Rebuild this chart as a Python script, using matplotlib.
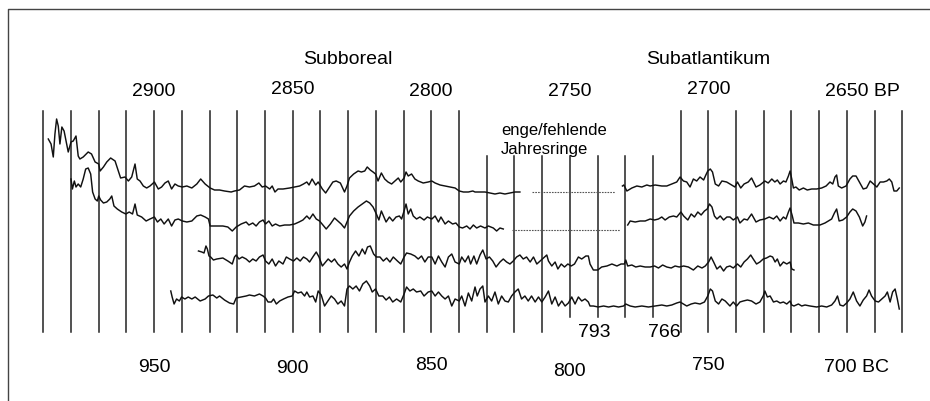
import matplotlib.pyplot as plt

# ---------------- data ----------------
# grid years (BC), one line every 10 years
grid_years = list(range(990, 679, -10))
bc_labels = [950, 900, 850, 800, 750, 700]
bp_labels = [2900, 2850, 2800, 2750, 2700, 2650]

# ring-width curves: year (BC) and width above the curve's own baseline
s1a_years = [988.2, 987.2, 986.4, 985.8, 985.2, 984.6, 984.0, 983.3, 982.5, 981.8,
             981.0, 980.0, 979.2, 978.2, 977.4, 976.8, 975.6, 973.8, 972.6, 971.3,
             970.0, 969.5, 968.3, 967.1, 965.7, 964.1, 962.9, 962.1, 960.5, 959.3,
             958.1, 956.9, 956.1, 955.1, 953.9, 952.7, 951.5, 949.9, 948.5, 947.3,
             946.1, 944.9, 943.7, 942.5, 941.3, 939.8, 938.2, 936.4, 934.6, 933.2,
             931.6, 929.8, 928.2, 926.4, 924.6, 922.2, 921.0, 919.2, 917.4, 915.6,
             913.8, 912.2, 911.0, 909.8, 908.3, 907.4, 906.4, 905.3, 903.5, 901.1,
             899.3, 897.5, 896.1, 894.9, 894.1, 893.0, 891.7, 890.8, 889.3, 888.1,
             886.9, 885.5, 884.3, 882.8, 881.3, 880.4, 879.5, 878.0, 876.4, 875.2,
             874.0, 873.1, 872.0, 871.0, 870.1, 869.2, 868.0, 866.8, 865.6, 864.3,
             863.1, 861.9, 861.0, 859.8, 859.1, 858.3, 857.1, 855.9, 854.7, 852.9,
             851.1, 849.8, 848.6, 846.8, 845.0, 843.2, 841.4, 839.9, 838.4, 836.6,
             835.0, 834.2, 832.4, 830.6, 828.8, 827.0, 825.2, 823.4, 821.6, 819.8,
             818.0]
s1a_vals = [55, 50, 37, 60, 75, 68, 50, 67, 63, 53,
            42, 52, 53, 58, 38, 35, 37, 42, 40, 32,
            30, 23, 27, 32, 36, 33, 23, 16, 17, 13,
            17, 30, 15, 13, 8, 6, 8, 12, 5, 7,
            11, 13, 5, 10, 8, 7, 8, 6, 10, 15,
            10, 6, 4, 4, 3, 2, 3, 4, 8, 7,
            8, 11, 7, 8, 5, 8, 2, 5, 5, 6,
            7, 8, 10, 12, 9, 15, 9, 12, 5, 1,
            6, 12, 13, 11, 2, 8, 16, 20, 23, 22,
            23, 27, 24, 22, 20, 13, 21, 15, 12, 10,
            13, 16, 12, 16, 22, 18, 20, 15, 13, 11,
            12, 13, 11, 9, 8, 7, 6, 3, 2, 2,
            3, 2, 2, 2, 1, 0, 1, 0, 1, 2,
            2]
s1_gap = [813.5, 783.6]
s1b_years = [781.0, 780.5, 779.4, 777.6, 775.8, 774.0, 772.2, 771.0, 769.2, 766.8,
             765.0, 763.2, 761.4, 760.2, 759.0, 757.8, 756.6, 755.4, 754.2, 753.0,
             751.7, 750.9, 750.2, 749.3, 748.5, 747.5, 746.3, 745.1, 743.4, 741.6,
             740.4, 739.5, 738.3, 737.1, 735.6, 734.4, 732.8, 731.4, 729.6, 728.4,
             727.1, 726.0, 725.1, 724.1, 722.9, 722.0, 721.1, 720.5, 719.9, 719.3,
             718.4, 717.2, 715.7, 714.3, 712.7, 710.9, 709.1, 707.5, 706.1, 705.1,
             704.3, 703.7, 703.1, 701.9, 700.3, 698.9, 697.9, 696.7, 695.5, 694.1,
             692.9, 691.6, 690.4, 689.2, 688.0, 686.8, 685.6, 684.7, 683.8, 683.0,
             682.0, 681.1]
s1b_vals = [8, 9, 3, 6, 8, 7, 9, 8, 9, 8,
            8, 10, 12, 17, 13, 12, 7, 15, 13, 17,
            14, 19, 23, 25, 22, 10, 8, 13, 12, 9,
            7, 12, 6, 10, 12, 16, 7, 9, 13, 11,
            15, 12, 14, 10, 13, 12, 18, 23, 15, 6,
            7, 4, 6, 4, 5, 5, 6, 8, 12, 10,
            17, 19, 8, 6, 8, 15, 18, 18, 12, 5,
            6, 13, 10, 7, 12, 12, 13, 15, 12, 3,
            3, 6]

s2a_years = [980.0, 979.5, 978.8, 978.2, 977.4, 976.5, 975.6, 974.7, 973.8, 972.9,
             972.2, 971.3, 970.5, 970.0, 969.3, 968.3, 967.1, 966.0, 965.3, 964.5,
             963.3, 961.7, 960.2, 959.0, 957.8, 956.9, 956.1, 954.5, 952.9, 951.5,
             949.9, 948.8, 947.6, 946.4, 944.9, 943.7, 942.5, 941.3, 939.8, 938.2,
             936.4, 934.6, 933.2, 931.6, 930.4, 929.8, 927.6, 925.2, 923.4, 921.8,
             920.4, 918.6, 916.8, 915.8, 914.4, 913.2, 912.0, 910.7, 909.8, 908.6,
             907.4, 906.2, 904.7, 902.9, 901.1, 899.3, 897.7, 896.3, 894.9, 893.9,
             892.7, 891.5, 890.3, 889.1, 887.9, 886.4, 884.9, 883.7, 882.5, 881.3,
             880.4, 879.5, 878.0, 876.4, 874.9, 873.4, 872.2, 871.0, 869.8, 868.9,
             868.0, 866.3, 865.1, 863.9, 862.7, 861.5, 860.7, 859.8, 859.1, 858.3,
             857.4, 856.5, 855.3, 854.1, 852.6, 851.4, 849.8, 848.6, 847.4, 846.5,
             845.0, 843.8, 842.3, 841.1, 839.9, 838.7, 837.2, 836.0, 834.8, 833.6,
             832.2, 830.6, 829.4, 827.6, 826.4, 825.2, 824.0]
s2a_vals = [52, 42, 50, 44, 47, 44, 52, 62, 63, 57,
            39, 32, 30, 35, 31, 28, 29, 32, 35, 25,
            22, 19, 17, 19, 17, 27, 16, 14, 10, 12,
            14, 9, 12, 7, 12, 5, 11, 12, 10, 9,
            10, 15, 16, 14, 12, 5, 5, 5, 4, 0,
            4, 7, 9, 6, 8, 5, 9, 11, 7, 10,
            5, 7, 5, 6, 6, 7, 9, 11, 15, 12,
            17, 12, 10, 6, 2, 7, 13, 10, 7, 3,
            9, 15, 20, 24, 27, 30, 28, 24, 17, 11,
            20, 9, 14, 10, 14, 15, 12, 20, 27, 17,
            22, 15, 12, 14, 11, 14, 12, 15, 9, 14,
            7, 10, 7, 8, 4, 3, 5, 2, 6, 3,
            5, 3, 5, 3, 0, 3, 2]
s2_gap = [821.0, 782.0]
s2b_years = [779.1, 778.2, 776.4, 774.6, 772.8, 771.0, 769.4, 768.0, 766.8, 765.6,
             764.1, 762.6, 761.4, 759.9, 758.9, 757.4, 756.2, 755.0, 753.8, 752.6,
             751.4, 750.4, 749.6, 748.7, 747.8, 746.9, 745.7, 744.5, 743.3, 742.2,
             741.0, 739.5, 738.6, 737.1, 735.9, 734.4, 732.8, 731.4, 729.6, 728.0,
             726.5, 725.3, 724.1, 722.9, 722.0, 721.1, 720.5, 719.7, 719.1, 717.5,
             715.7, 713.9, 712.1, 709.7, 707.9, 706.7, 705.5, 704.5, 703.7, 702.8,
             701.5, 700.1, 698.9, 697.9, 696.7, 695.5, 694.3, 693.5, 692.9]
s2b_vals = [6, 10, 9, 10, 10, 12, 11, 12, 14, 11,
            14, 15, 14, 19, 15, 11, 17, 14, 19, 16,
            20, 22, 27, 24, 15, 12, 15, 11, 14, 14,
            11, 14, 8, 12, 11, 17, 9, 11, 12, 14,
            12, 15, 10, 14, 12, 19, 23, 15, 8, 8,
            7, 8, 6, 6, 8, 10, 12, 18, 22, 10,
            11, 14, 19, 22, 20, 14, 5, 9, 15]

s3_years = [934.0, 932.8, 932.0, 931.3, 930.8, 930.2, 929.6, 928.6, 927.4, 925.2,
            923.4, 921.8, 921.0, 920.4, 919.4, 918.2, 916.8, 915.6, 914.4, 913.2,
            912.0, 910.7, 909.8, 908.6, 907.4, 906.2, 905.0, 903.5, 902.3, 901.1,
            899.7, 898.5, 897.3, 896.1, 894.9, 893.9, 892.5, 891.5, 890.5, 889.3,
            888.1, 887.2, 886.0, 884.9, 883.7, 882.5, 881.3, 880.4, 879.5, 878.5,
            877.3, 876.1, 874.9, 873.9, 873.0, 872.0, 870.8, 869.8, 868.5, 867.3,
            866.1, 864.9, 863.7, 862.2, 861.0, 859.8, 858.9, 857.4, 855.9, 854.7,
            853.5, 852.3, 851.1, 849.8, 848.6, 847.4, 846.2, 845.0, 843.8, 842.6,
            841.4, 839.9, 839.0, 837.8, 836.6, 835.8, 834.6, 833.6, 832.4, 831.4,
            830.2, 829.0, 827.8, 826.6, 825.2, 824.0, 822.8, 821.6, 820.4, 819.2,
            818.0, 816.8, 815.6, 814.3, 813.1, 811.9, 810.7, 809.5, 808.3, 807.7,
            806.5, 805.3, 804.3, 803.1, 801.9, 800.7, 799.5, 798.3, 796.9, 795.7,
            794.2, 793.3, 792.7, 791.5, 789.9, 788.5, 786.6, 784.8, 783.0, 781.5,
            780.3, 779.8, 779.1, 777.6, 776.2, 774.6, 772.8, 771.0, 769.4, 768.0,
            766.5, 765.0, 763.4, 762.0, 760.5, 758.9, 757.2, 755.4, 753.8, 752.3,
            751.1, 749.9, 749.0, 748.1, 746.9, 745.7, 744.5, 743.4, 742.2, 741.0,
            739.5, 738.3, 737.1, 735.9, 734.7, 733.8, 732.6, 731.4, 730.2, 729.0,
            727.7, 726.8, 725.9, 725.1, 724.1, 722.9, 721.7, 720.5, 719.9, 719.1]
s3_vals = [20, 19, 18, 25, 22, 15, 14, 11, 12, 13,
           10, 7, 14, 16, 12, 14, 12, 9, 12, 10,
           14, 16, 10, 7, 12, 5, 10, 7, 14, 12,
           10, 13, 10, 14, 12, 9, 15, 19, 14, 5,
           9, 12, 9, 12, 7, 4, 7, 2, 9, 15,
           20, 15, 22, 17, 24, 25, 17, 14, 14, 10,
           13, 9, 14, 10, 7, 14, 18, 17, 15, 12,
           15, 9, 14, 14, 7, 15, 9, 4, 14, 17,
           9, 7, 14, 9, 15, 7, 15, 7, 16, 21,
           12, 14, 10, 4, 9, 12, 9, 7, 10, 14,
           16, 12, 14, 9, 14, 7, 10, 13, 16, 10,
           5, 9, 2, 7, 4, 7, 5, 7, 14, 12,
           15, 15, 7, 1, 1, 4, 5, 7, 5, 7,
           7, 11, 5, 6, 4, 5, 4, 4, 5, 3,
           6, 4, 3, 5, 4, 5, 4, 1, 5, 3,
           5, 9, 14, 9, 2, 5, 0, 4, 5, 3,
           7, 4, 9, 12, 16, 12, 7, 9, 12, 13,
           15, 14, 9, 12, 5, 9, 7, 9, 2, 1]

s4_years = [944.0, 943.5, 942.8, 941.9, 940.9, 940.1, 938.9, 937.7, 936.4, 935.2,
            933.4, 931.6, 930.4, 928.8, 927.4, 926.4, 924.6, 922.8, 921.3, 920.4,
            918.6, 916.8, 915.6, 913.8, 912.0, 910.7, 909.8, 908.9, 907.7, 906.9,
            905.9, 904.7, 903.3, 901.7, 900.2, 899.3, 898.1, 896.9, 895.7, 894.9,
            893.9, 892.7, 891.7, 890.8, 889.7, 888.5, 887.3, 886.1, 884.9, 883.7,
            882.5, 881.3, 880.4, 879.5, 878.3, 877.1, 875.9, 874.7, 873.4, 872.2,
            871.3, 870.1, 868.9, 867.5, 866.3, 865.1, 863.9, 862.5, 861.0, 859.8,
            858.9, 857.7, 856.5, 855.3, 853.8, 852.6, 851.1, 849.8, 848.6, 847.4,
            846.2, 845.0, 843.8, 842.6, 841.4, 839.9, 839.0, 837.8, 836.6, 835.4,
            834.2, 833.4, 832.4, 831.4, 830.6, 829.4, 828.2, 827.0, 825.8, 824.6,
            823.4, 822.2, 821.0, 819.8, 818.6, 817.4, 816.2, 815.0, 813.8, 812.5,
            811.3, 810.1, 808.9, 807.7, 806.5, 805.3, 804.1, 802.9, 801.7, 800.5,
            799.3, 798.1, 796.9, 795.7, 794.5, 793.3, 792.7, 791.5, 789.7, 787.8,
            786.0, 784.2, 782.4, 780.6, 779.8, 778.2, 776.4, 774.0, 771.6, 769.2,
            766.8, 765.0, 763.2, 761.4, 760.2, 759.0, 757.8, 756.2, 754.8, 753.0,
            751.4, 750.2, 749.3, 748.5, 747.5, 746.3, 745.1, 743.9, 742.2, 741.0,
            739.8, 738.6, 737.4, 735.9, 734.4, 732.8, 731.4, 730.2, 729.6, 728.7,
            727.7, 726.5, 725.3, 724.1, 722.9, 721.7, 720.5, 719.9, 719.1, 717.5,
            716.3, 715.1, 713.3, 710.9, 709.1, 707.3, 705.5, 704.3, 703.4, 702.5,
            701.3, 700.1, 698.9, 697.7, 696.5, 695.3, 694.1, 692.9, 692.0, 691.1,
            689.8, 688.6, 687.4, 686.2, 685.4, 684.4, 683.5, 682.6, 681.8, 681.1]
s4_vals = [18, 12, 5, 10, 8, 12, 10, 12, 10, 12,
           8, 10, 13, 14, 11, 13, 9, 6, 5, 11,
           12, 13, 14, 13, 15, 13, 11, 7, 7, 10,
           5, 8, 10, 12, 13, 18, 16, 17, 13, 17,
           12, 13, 7, 18, 14, 3, 8, 13, 10, 5,
           8, 3, 20, 23, 20, 23, 18, 25, 28, 23,
           17, 20, 13, 13, 9, 12, 7, 10, 7, 15,
           22, 18, 20, 17, 18, 13, 17, 18, 13, 17,
           13, 10, 13, 3, 10, 8, 13, 3, 16, 8,
           22, 13, 20, 23, 7, 13, 8, 17, 5, 13,
           8, 7, 13, 17, 20, 10, 13, 8, 13, 7,
           12, 7, 12, 18, 5, 12, 3, 8, 3, 6,
           12, 5, 12, 8, 10, 7, 3, 3, 2, 3,
           2, 3, 2, 3, 5, 3, 2, 3, 2, 3,
           4, 3, 4, 6, 7, 5, 3, 5, 6, 5,
           7, 13, 20, 18, 8, 5, 10, 8, 3, 7,
           3, 7, 8, 9, 8, 5, 7, 13, 18, 12,
           13, 7, 8, 6, 7, 5, 8, 4, 3, 5,
           3, 4, 3, 2, 3, 2, 4, 8, 13, 4,
           3, 6, 10, 17, 8, 3, 9, 13, 19, 13,
           8, 7, 10, 13, 17, 7, 17, 20, 10, 0]

# ---------------- layout ----------------
W, H = 930, 402
PX_PER_YEAR = 2.771
X0 = 43.3                      # pixel column of 990 BC
base = {'s1': 195, 's2': 232, 's3': 272, 's4': 310}   # curve baselines (pixel rows)

plt.rcParams['font.family'] = ['Liberation Sans', 'DejaVu Sans']

fig = plt.figure(figsize=(W / 100, H / 100), dpi=100, facecolor='white')
ax = fig.add_axes([0, 0, 1, 1])
ax.set_xlim(990 + X0 / PX_PER_YEAR, 990 - (W - X0) / PX_PER_YEAR)
ax.set_ylim(H, 0)
ax.axis('off')

# frame (top and left only)
ax.plot([8 / W, 8 / W, 1], [0, 1 - 10 / H, 1 - 10 / H], transform=ax.transAxes,
        color='#444444', lw=1.0, clip_on=False)

# vertical year lines
for yr in grid_years:
    top = 157 if 770 <= yr <= 830 else 112
    bottom = 318 if 770 <= yr <= 800 else 333
    ax.plot([yr, yr], [top, bottom], color='#222222', lw=1.1, zorder=1)

curve_kw = dict(color='#111111', lw=1.05, zorder=3)

def draw(years, vals, key):
    ax.plot(years, [base[key] - v for v in vals], **curve_kw)

draw(s1a_years, s1a_vals, 's1')
draw(s1b_years, s1b_vals, 's1')
draw(s2a_years, s2a_vals, 's2')
draw(s2b_years, s2b_vals, 's2')
draw(s3_years, s3_vals, 's3')
draw(s4_years, s4_vals, 's4')

# missing-ring gaps as dotted lines
dash_kw = dict(color='#555555', lw=0.8, ls=(0, (1.5, 1.0)), zorder=2)
ax.plot(s1_gap, [base['s1'] - 2] * 2, **dash_kw)
ax.plot(s2_gap, [base['s2'] - 1] * 2, **dash_kw)

# ---------------- text ----------------
fs = 14
ax.text(880, 60, 'Subboreal', ha='center', va='center', fontsize=fs)
ax.text(750, 60, 'Subatlantikum', ha='center', va='center', fontsize=fs)

bp_rows = [92, 89, 92, 91, 90, 92]
for v, row in zip(bp_labels, bp_rows):
    yr = v - 1950
    if v == bp_labels[-1]:
        ax.annotate(f'{v} BP', (yr, row), xytext=(-16, 0), textcoords='offset points',
                    ha='left', va='center', fontsize=fs)
    else:
        ax.text(yr, row, str(v), ha='center', va='center', fontsize=fs)

bc_rows = [368, 369, 366, 372, 366, 368]
for v, row in zip(bc_labels, bc_rows):
    if v == bc_labels[-1]:
        ax.annotate(f'{v} BC', (v, row), xytext=(-16.5, 0), textcoords='offset points',
                    ha='left', va='center', fontsize=fs)
    else:
        ax.text(v, row, str(v), ha='center', va='center', fontsize=fs)

ax.text(791, 333, '793', ha='center', va='center', fontsize=fs)
ax.text(766, 333, '766', ha='center', va='center', fontsize=fs)

ax.text(824.8, 131, 'enge/fehlende', ha='left', va='center', fontsize=12)
ax.text(824.8, 150, 'Jahresringe', ha='left', va='center', fontsize=12)

fig.savefig('out.png', dpi=100, facecolor='white')
